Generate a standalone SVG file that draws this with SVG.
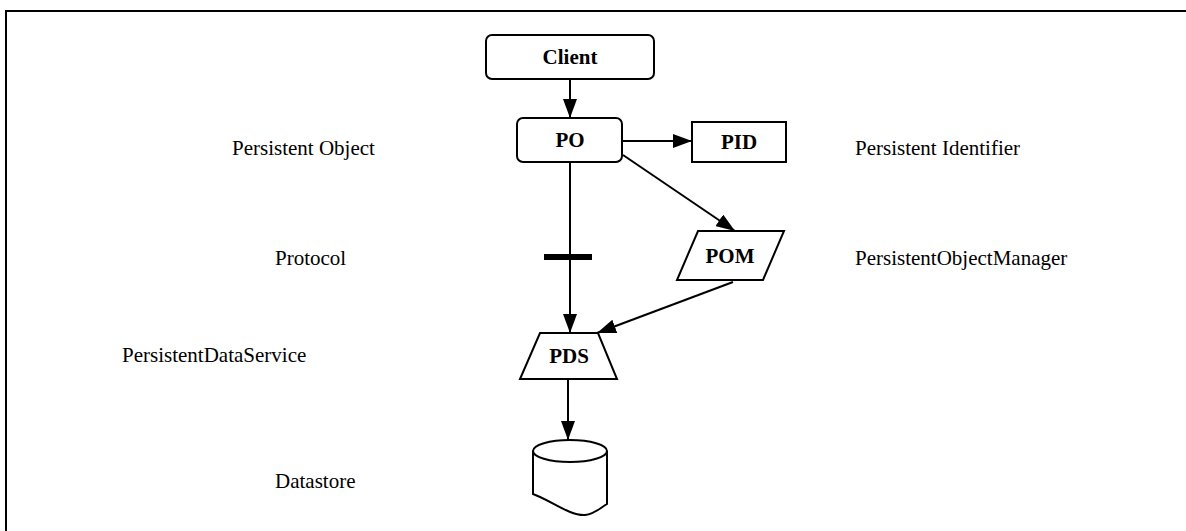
<svg xmlns="http://www.w3.org/2000/svg" width="1186" height="531" viewBox="0 0 1186 531">
<defs>
<marker id="ah" viewBox="0 0 19 14" refX="19" refY="7" markerWidth="19" markerHeight="14" markerUnits="userSpaceOnUse" orient="auto">
<path d="M0,0 L19,7 L0,14 Z" fill="#000"/>
</marker>
<style>
.shape{fill:#fff;stroke:#000;stroke-width:2}
.edge{fill:none;stroke:#000;stroke-width:2;marker-end:url(#ah)}
.nl{font-family:"Liberation Serif","Times New Roman",serif;font-weight:bold;font-size:21px;text-anchor:middle;fill:#000}
.lbl{font-family:"Liberation Serif","Times New Roman",serif;font-size:21px;fill:#000}
</style>
</defs>
<rect x="6" y="11" width="1200" height="540" fill="#fff" stroke="#000" stroke-width="2"/>
<g id="connectors">
<line class="edge" x1="570" y1="79" x2="570" y2="118"/>
<line class="edge" x1="622" y1="141" x2="692" y2="141"/>
<line class="edge" x1="623" y1="155" x2="735" y2="231"/>
<line class="edge" x1="570" y1="162" x2="570" y2="333"/>
<line x1="544" y1="257" x2="592" y2="257" stroke="#000" stroke-width="6"/>
<line class="edge" x1="733" y1="282" x2="597" y2="333"/>
<line class="edge" x1="568" y1="379" x2="568" y2="440"/>
</g>
<g id="client">
<rect class="shape" x="486" y="35" width="168" height="44" rx="6"/>
<text class="nl" x="570" y="64">Client</text>
</g>
<g id="po">
<rect class="shape" x="517" y="118" width="105" height="44" rx="6"/>
<text class="nl" x="570" y="147">PO</text>
</g>
<g id="pid">
<rect class="shape" x="692" y="122" width="94" height="40"/>
<text class="nl" x="739" y="149">PID</text>
</g>
<g id="pom">
<polygon class="shape" points="698,231 784,231 763,280 677,280"/>
<text class="nl" x="730" y="263">POM</text>
</g>
<g id="pds">
<polygon class="shape" points="540,333 598,333 617,379 520,379"/>
<text class="nl" x="569" y="363">PDS</text>
</g>
<g id="datastore">
<path class="shape" d="M533,451 L533,494 C550,500 570,516 585,515 C595,514 600,508 607,504 L607,451"/>
<ellipse class="shape" cx="570" cy="451" rx="37" ry="11"/>
</g>
<g id="labels">
<text class="lbl" x="232" y="155">Persistent Object</text>
<text class="lbl" x="855" y="155">Persistent Identifier</text>
<text class="lbl" x="275" y="265">Protocol</text>
<text class="lbl" x="855" y="265">PersistentObjectManager</text>
<text class="lbl" x="122" y="362">PersistentDataService</text>
<text class="lbl" x="275" y="488">Datastore</text>
</g>
</svg>
